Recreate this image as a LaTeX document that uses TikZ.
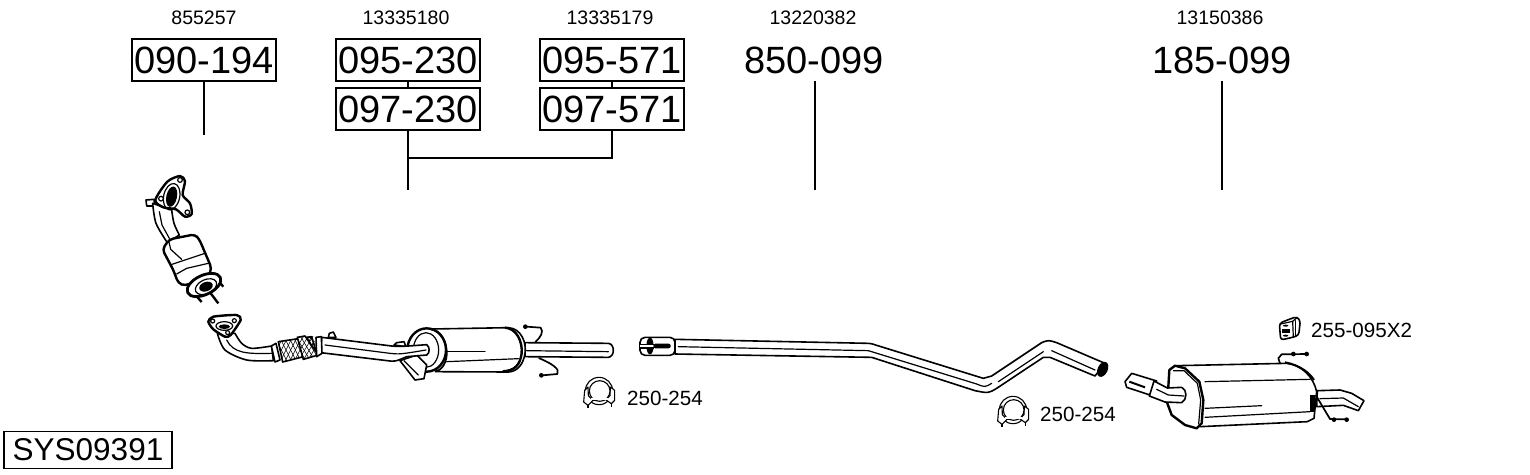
\documentclass[tikz,border=0pt]{standalone}
\usepackage{fontspec}
\setmainfont{Liberation Sans}
\usepackage{tikz}
\usetikzlibrary{calc, positioning}
\tikzset{
    partbox/.style={draw, line width=1.1pt, inner sep=0pt, minimum width=144pt, minimum height=42pt, font=\fontsize{38}{40}\selectfont},
    partbig/.style={inner sep=0pt, font=\fontsize{38}{40}\selectfont},
    partnum/.style={inner sep=0pt, font=\fontsize{19.5}{22}\selectfont},
    partlab/.style={inner sep=0pt, anchor=west, font=\fontsize{20.6}{23}\selectfont},
    sysbox/.style={draw, line width=1.3pt, inner sep=0pt, minimum width=168pt, minimum height=37pt, font=\fontsize{31.5}{33}\selectfont},
    leader/.style={line width=1.1pt},
    body/.style={draw, fill=white, line width=1.6pt, line join=round},
    thickbody/.style={draw, fill=white, line width=2.4pt, line join=round},
    inner/.style={line width=1.2pt, line cap=round},
    clampline/.style={draw, fill=white, line width=1.1pt, line join=round},
    hook/.style={line width=1.7pt, line join=round}
}
\begin{document}
\begin{tikzpicture}[x=1pt, y=-1pt]
    \useasboundingbox (0,0) rectangle (1530,474);
    % part numbers
    \node[partnum] (n855) at (204,18) {855257};
    \node[partnum] (n180) at (406,18) {13335180};
    \node[partnum] (n179) at (610,18) {13335179};
    \node[partnum] (n382) at (813,18) {13220382};
    \node[partnum] (n386) at (1220,18) {13150386};
    \node[partbox] (p090) at (204,60) {090-194};
    \node[partbox] (p095a) at (408,60) {095-230};
    \node[partbox] (p097a) at (408,109) {097-230};
    \node[partbox] (p095b) at (612,60) {095-571};
    \node[partbox] (p097b) at (612,109) {097-571};
    \node[partbig] (p850) at (814,60) {850-099};
    \node[partbig] (p185) at (1222,60) {185-099};
    \node[sysbox] (sys) at (88,450) {SYS09391};
    % leaders
    \coordinate (e090) at (204,135);
    \coordinate (e230) at (408,190);
    \coordinate (j230) at (408,158);
    \coordinate (e850) at (815,190);
    \coordinate (s850) at (815,81);
    \coordinate (e185) at (1222,190);
    \coordinate (s185) at (1222,81);
    \draw[leader] (p090.south) -- (e090);
    \draw[leader] (p095a) -- (p097a);
    \draw[leader] (p095b) -- (p097b);
    \draw[leader] (p097a.south) -- (e230);
    \draw[leader] (p097b.south) |- (j230);
    \draw[leader] (s850) -- (e850);
    \draw[leader] (s185) -- (e185);
    % front pipe with catalyst
    \begin{scope}[shift={(130,170)}, scale=1/3]
    \draw[body] (48,90) -- (72,88) -- (74,108) -- (50,108) -- cycle;
    \draw[body] plot[smooth, tension=.5] coordinates {(68,100) (78,160) (112,218)} -- (148,195) -- plot[smooth, tension=.5] coordinates {(148,195) (132,160) (125,120)} -- cycle;
    \draw[inner] (88,125) -- (96,165) -- (118,205);
    \draw[thickbody, rounded corners=4pt] (97,238) -- (118,208) -- (195,193) -- (208,208) -- (245,295) -- (235,320) -- (165,347) -- (145,340) -- (130,300) -- cycle;
    \draw[inner] (116,212) -- (122,238) -- (155,268);
    \draw[inner] (120,285) -- (225,250);
    \draw[inner] (140,312) -- (170,295) -- (235,280);
    \foreach \bx/\by/\ex/\ey in {190/368/215/396, 242/370/265/400, 255/322/280/350}
        \draw[line width=2.4pt] (\bx,\by) -- (\ex,\ey);
    \draw[thickbody, rotate around={25:(222,345)}, line width=2.8pt] (222,345) ellipse (54 and 29);
    \draw[inner, rotate around={25:(228,350)}] (228,350) ellipse (34 and 21);
    \fill[rotate around={20:(228,350)}] (228,350) ellipse (21 and 14);
    \draw[thickbody] plot[smooth cycle, tension=.45] coordinates {(112,35) (150,18) (165,33) (158,75) (180,100) (185,132) (165,140) (138,118) (100,112) (76,90)};
    \draw[inner, rotate around={-12:(125,80)}] (125,80) ellipse (24 and 40);
    \fill[rotate around={-12:(125,80)}] (125,80) ellipse (16 and 31);
    \foreach \hx/\hy in {150/30, 93/86, 172/127}
        \draw[inner] (\hx,\hy) circle (7);
    % lower flange and flex
    \draw[body] plot[smooth, tension=.5] coordinates {(262,490) (285,540) (350,570) (430,572)} -- (425,528) -- plot[smooth, tension=.5] coordinates {(425,528) (365,535) (335,520) (315,490)} -- cycle;
    \draw[inner] (290,510) .. controls (310,550) and (350,552) .. (425,550);
    \draw[thickbody] plot[smooth cycle, tension=.4] coordinates {(235,455) (250,440) (320,435) (332,450) (302,495) (285,500) (250,478)};
    \draw[inner] (283,468) ellipse (25 and 13);
    \fill (283,470) ellipse (17 and 7);
    \foreach \hx/\hy in {248/453, 313/452, 293/488}
        \draw[inner] (\hx,\hy) circle (6);
    \draw[body] (424,528) -- (438,520) -- (450,570) -- (435,576) -- cycle;
    \draw[body] (445,515) -- (545,500) -- (560,550) -- (458,576) -- cycle;
    \begin{scope}
    \clip (445,515) -- (545,500) -- (560,550) -- (458,576) -- cycle;
    \foreach \m in {-160,-146,...,150}{
        \draw[line width=.55pt] (500+\m,480) -- (560+\m,600);
        \draw[line width=.55pt] (560+\m,480) -- (500+\m,600);}
    \end{scope}
    \end{scope}
    % centre silencer
    \begin{scope}[shift={(300,300)}, scale=1/3]
    \draw[body] (-8,112) -- (15,108) -- (55,165) -- (10,178) -- cycle;
    \begin{scope}
    \clip (-8,112) -- (15,108) -- (42,108) -- (48,165) -- (10,178) -- cycle;
    \foreach \m in {-80,-66,...,80}{
        \draw[line width=.55pt] (0+\m,90) -- (60+\m,190);
        \draw[line width=.55pt] (60+\m,90) -- (0+\m,190);}
    \end{scope}
    \draw[body] (85,112) -- (88,100) -- (100,96) -- (108,112) -- cycle;
    \draw[body] (282,135) -- (290,128) -- (312,125) -- (318,140) -- cycle;
    \draw[hook] (680,80) -- (722,83) .. controls (732,95) and (722,112) .. (706,126);
    \fill (676,80) circle (7);
    \draw[hook] (727,226) -- (772,222) .. controls (782,208) and (755,190) .. (716,174);
    \fill (724,226) circle (7);
    \draw[body] (675,128) -- (925,130) .. controls (945,132) and (945,170) .. (925,172) -- (675,170) -- cycle;
    \draw[inner] (680,152) -- (925,155);
    \draw[body] (395,87) -- (625,83) .. controls (665,85) and (680,130) .. (675,160) .. controls (670,195) and (650,215) .. (625,216) -- (410,215) -- cycle;
    \draw[line width=2.4pt] (615,83) .. controls (650,85) and (668,125) .. (665,160) .. controls (660,195) and (645,212) .. (608,214);
    \draw[inner] (440,155) -- (555,155);
    \draw[inner] (440,185) -- (655,176);
    \draw[thickbody] (380,150) ellipse (58 and 65);
    \draw[line width=1.8pt] (390,87) .. controls (425,90) and (442,130) .. (440,165) .. controls (438,195) and (420,213) .. (405,215);
    \draw[inner] (378,150) ellipse (38 and 52);
    \draw[body] (300,182) -- (345,240) -- (372,236) -- (380,195) -- (350,165) -- cycle;
    \draw[inner] (312,182) -- (355,225);
    \draw[body] (65,112) -- (275,138) .. controls (300,140) .. (380,134) .. controls (390,140) and (390,160) .. (380,165) -- (320,170) .. controls (285,185) .. (262,182) -- (62,158) -- cycle;
    \draw[inner] (75,135) -- (270,160) .. controls (300,163) .. (378,150);
    \draw[body] (48,112) -- (64,110) -- (66,160) -- (50,170) -- cycle;
    \end{scope}
    % middle pipe
    \begin{scope}[shift={(630,320)}, scale=1/3]
    \draw[body] (135,58) -- (715,70) .. controls (725,71) .. (740,76) -- (1060,175) -- (1085,168) -- (1235,68) .. controls (1255,60) .. (1280,68) -- (1425,130) -- (1395,168) -- (1260,112) -- (1240,112) -- (1100,205) .. controls (1075,220) .. (1035,212) -- (725,112) -- (135,102) -- cycle;
    \draw[inner] (145,80) -- (715,92) -- (1040,192) .. controls (1065,202) .. (1085,190);
    \draw[inner] (1105,185) -- (1240,95);
    \draw[inner] (1265,92) -- (1395,150);
    \draw[body, rounded corners=5pt] (30,52) -- (135,52) -- (135,106) -- (30,106) -- cycle;
    \fill (60,78) ellipse (11 and 25);
    \fill[white] (30,74) rectangle (72,83);
    \draw[line width=1.2pt] (30,74) -- (72,74);
    \draw[line width=1.2pt] (30,84) -- (72,84);
    \fill[rounded corners=2pt] (70,71) rectangle (122,85);
    \fill[rotate around={-25:(1418,148)}] (1418,148) ellipse (15 and 24);
    \end{scope}
    % rear silencer
    \begin{scope}[shift={(1110,300)}, scale=1/3]
    \draw[hook] (510,190) -- (505,175) -- (515,163) -- (592,162);
    \foreach \dx in {550,590} \fill (\dx,162) circle (7);
    \draw[body] (622,272) -- (690,270) -- (725,280) -- (762,302) -- (745,332) -- (700,316) -- (620,320) -- cycle;
    \draw[inner] (630,296) -- (700,294) -- (745,320);
    \draw[body] (200,197) -- (530,190) .. controls (575,195) and (610,230) .. (620,275) -- (612,355) -- (592,365) -- (270,380) -- (190,300) -- cycle;
    \draw[inner] (285,245) -- (600,238);
    \draw[inner] (285,352) -- (600,335);
    \draw[inner] (285,325) -- (455,317);
    \draw[line width=2pt] (525,187) .. controls (570,195) and (600,220) .. (612,240);
    \fill (600,285) rectangle (615,335);
    \draw[hook] (617,285) -- (660,357) -- (712,358);
    \foreach \dx in {672,710} \fill (\dx,359) circle (7);
    \draw[thickbody] (178,210) -- (195,197) -- (225,205) -- (268,245) -- (280,300) -- (275,370) -- (260,385) -- (225,375) -- (185,345) -- (172,310) -- cycle;
    \draw[inner] (190,212) -- (222,212) -- (262,250) -- (272,300) -- (266,372);
    \draw[body] (45,245) -- (65,220) -- (140,243) -- (120,285) -- (50,262) -- cycle;
    \draw[line width=2pt] (58,245) -- (105,262);
    \draw[body] (132,243) -- (172,264) -- (215,262) .. controls (232,270) and (232,298) .. (215,308) -- (165,306) -- (118,288) -- cycle;
    \draw[inner] (140,268) -- (175,285) -- (222,288);
    % hanger icon
    \draw[body, rounded corners=3pt] (508,70) -- (532,60) -- (560,50) -- (571,62) -- (566,106) -- (548,112) -- (512,120) -- cycle;
    \draw[inner] (512,72) -- (548,64) -- (550,112);
    \draw[inner] (548,64) -- (562,52);
    \draw[inner] (556,62) -- (556,108);
    \fill (527,77) ellipse (8 and 3);
    \fill (527,107) ellipse (8 and 3);
    \fill (517,88) rectangle (540,98);
    \end{scope}
    % clamps
    \foreach \cx/\cy in {599/391, 1013/410}{
    \begin{scope}[shift={(\cx,\cy)}, scale=1/3]
    \draw[clampline] (0,0) circle (41);
    \draw[clampline] (-43,-2) -- (-46,33) -- (-33,43) -- (-18,28) -- (20,26) -- (37,38) -- (47,28) -- (47,-2) -- (34,-12) -- (33,14) -- (20,26) -- (-18,28) -- (-32,14) -- (-33,-12) -- cycle;
    \draw[clampline] (2,0) circle (31);
    \fill[white] (-24,20) rectangle (26,27);
    \draw[line width=1.6pt] (-33,43) -- (-33,52);
    \draw[line width=1.6pt] (37,38) -- (37,48);
    \end{scope}}
    \node[partlab] (c254a) at (627,398) {250-254};
    \node[partlab] (c254b) at (1040,414) {250-254};
    \node[partlab] (h095) at (1311,330) {255-095X2};
\end{tikzpicture}
\end{document}
